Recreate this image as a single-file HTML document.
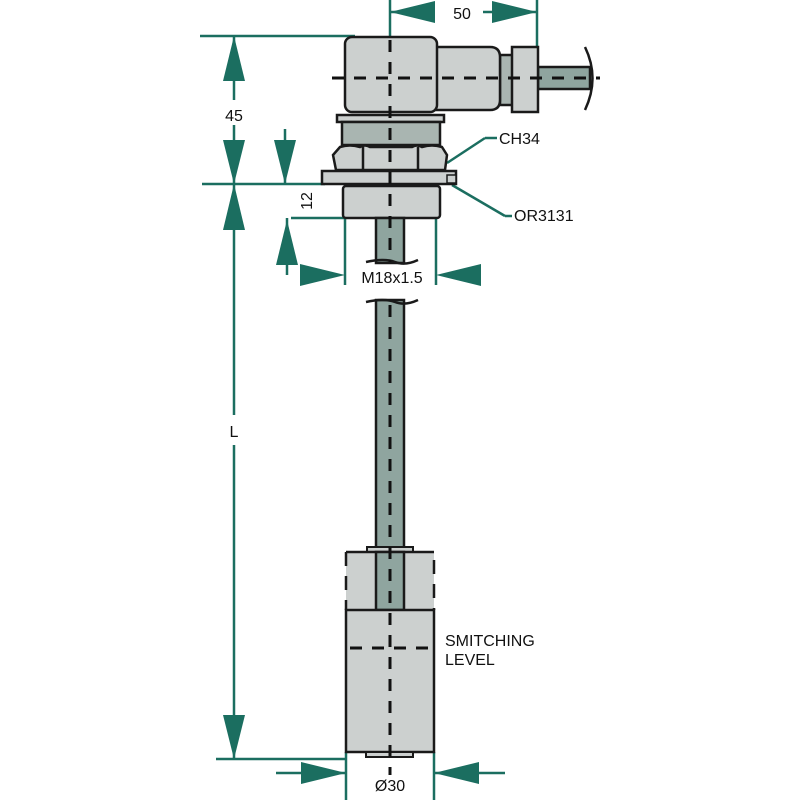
<!DOCTYPE html>
<html><head><meta charset="utf-8"><style>html,body{margin:0;padding:0;background:#fff}svg{display:block}</style></head>
<body>
<svg width="800" height="800" viewBox="0 0 800 800" xmlns="http://www.w3.org/2000/svg" font-family="Liberation Sans, sans-serif">
<g stroke="#1b6e60" stroke-width="2.5" fill="none">
<line x1="390" y1="0" x2="390" y2="40"/>
<line x1="537" y1="0" x2="537" y2="47"/>
<line x1="390" y1="12" x2="427" y2="12"/>
<line x1="483" y1="12" x2="537" y2="12"/>
<line x1="200" y1="36" x2="355" y2="36"/>
<line x1="202" y1="184" x2="325" y2="184"/>
<line x1="234" y1="36" x2="234" y2="100"/>
<line x1="234" y1="125" x2="234" y2="415"/>
<line x1="234" y1="445" x2="234" y2="759"/>
<line x1="216" y1="759" x2="346" y2="759"/>
<line x1="285" y1="129" x2="285" y2="184"/>
<line x1="291" y1="218" x2="345" y2="218"/>
<line x1="287" y1="218" x2="287" y2="275"/>
<line x1="345" y1="218" x2="345" y2="285"/>
<line x1="436" y1="218" x2="436" y2="285"/>
<line x1="346" y1="752" x2="346" y2="800"/>
<line x1="434" y1="752" x2="434" y2="800"/>
<line x1="276" y1="773" x2="346" y2="773"/>
<line x1="434" y1="773" x2="505" y2="773"/>
<line x1="447" y1="163" x2="485" y2="138"/><line x1="485" y1="138" x2="497" y2="138"/>
<line x1="452" y1="185" x2="505" y2="216"/><line x1="505" y1="216" x2="512" y2="216"/>
</g>
<g fill="#1b6e60">
<polygon points="390,12 435,1 435,23"/>
<polygon points="537,12 492,1 492,23"/>
<polygon points="234,36 223,81 245,81"/>
<polygon points="234,184 223,140 245,140"/>
<polygon points="234,184 223,230 245,230"/>
<polygon points="234,759 223,715 245,715"/>
<polygon points="285,184 274,140 296,140"/>
<polygon points="287,220 276,265 298,265"/>
<polygon points="345,275 300,264 300,286"/>
<polygon points="436,275 481,264 481,286"/>
<polygon points="346,773 301,762 301,784"/>
<polygon points="434,773 479,762 479,784"/>
</g>
<g stroke="#1a1a1a" stroke-width="2.5">
<rect x="500" y="55" width="13" height="50" fill="#a9b5b1"/>
<rect x="538" y="67" width="52" height="22" fill="#8fa59f"/>
<path d="M585,47 Q600,78 585,110" fill="none"/>
<path d="M430,47 H490 Q500,47 500,57 V100 Q500,110 490,110 H430 Z" fill="#ccd0cf"/>
<rect x="512" y="47" width="26" height="65" fill="#ccd0cf"/>
<rect x="345" y="37" width="92" height="75" rx="7" fill="#ccd0cf"/>
<rect x="337" y="115" width="107" height="7" fill="#ccd0cf"/>
<rect x="342" y="122" width="98" height="23" fill="#a9b5b1"/>
<path d="M336,170 L333,155 L340,147 Q350,144 360,147 Q365,144 370,147 H412 Q417,144 422,147 Q432,144 442,147 L447,155 L445,170 Z" fill="#ccd0cf"/>
<line x1="363" y1="147" x2="363" y2="170"/><line x1="418" y1="147" x2="418" y2="170"/>
<rect x="322" y="171" width="134" height="13" fill="#ccd0cf"/>
<rect x="447" y="175" width="9" height="8" fill="#ccd0cf" stroke-width="1.5"/>
<rect x="343" y="186" width="97" height="32" rx="3" fill="#ccd0cf"/>
<rect x="376" y="218" width="28" height="45" fill="#8fa59f"/>
<rect x="376" y="300" width="28" height="248" fill="#8fa59f"/>
<path d="M366,262 Q385,258 395,262 T418,260" fill="none"/>
<path d="M366,302 Q385,298 395,302 T418,300" fill="none"/>
<rect x="367" y="547" width="46" height="5" fill="#ccd0cf" stroke-width="2"/>
<rect x="346" y="552" width="88" height="58" fill="#ccd0cf" stroke="none"/>
<line x1="346" y1="552" x2="434" y2="552"/>
<rect x="376" y="552" width="28" height="58" fill="#8fa59f"/>
<line x1="346" y1="552" x2="346" y2="610" stroke-dasharray="14,10"/>
<line x1="434" y1="560" x2="434" y2="610" stroke-dasharray="14,10"/>
<rect x="346" y="610" width="88" height="142" fill="#ccd0cf"/>
<rect x="366" y="752" width="47" height="5" fill="#ccd0cf" stroke-width="2"/>
</g>
<g stroke="#111" stroke-width="3" stroke-dasharray="12,10">
<line x1="390" y1="40" x2="390" y2="262"/>
<line x1="390" y1="305" x2="390" y2="775"/>
<line x1="332" y1="78" x2="600" y2="78"/>
<line x1="350" y1="648" x2="432" y2="648"/>
</g>
<g fill="#111" font-size="16">
<text x="462" y="19" text-anchor="middle">50</text>
<text x="234" y="121" text-anchor="middle">45</text>
<text x="234" y="437" text-anchor="middle">L</text>
<text x="312" y="201" text-anchor="middle" transform="rotate(-90 312 201)">12</text>
<text x="392" y="283" text-anchor="middle">M18x1.5</text>
<text x="390" y="791" text-anchor="middle">Ø30</text>
<text x="499" y="144">CH34</text>
<text x="514" y="221">OR3131</text>
<text x="445" y="646">SMITCHING</text>
<text x="445" y="665">LEVEL</text>
</g>
</svg>
</body></html>
